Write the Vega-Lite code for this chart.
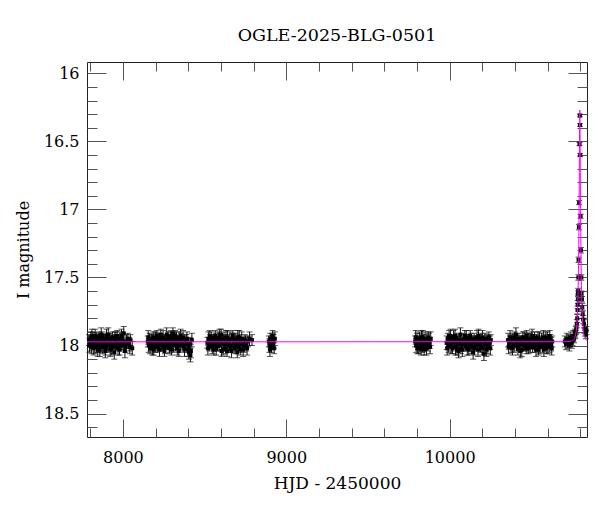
{
  "$schema": "https://vega.github.io/schema/vega-lite/v6.json",
  "width": 500,
  "height": 375,
  "autosize": "none",
  "padding": {"left": 87, "top": 62, "right": 13, "bottom": 75},
  "background": "white",
  "title": {
    "text": "OGLE-2025-BLG-0501",
    "font": "DejaVu Serif",
    "fontSize": 17.5,
    "fontWeight": "normal",
    "color": "#000",
    "anchor": "middle",
    "offset": 17
  },
  "datasets": {
    "obs": [
      {"hjd": 7792, "mag": 17.96, "err": 0.04}, {"hjd": 7798, "mag": 17.99, "err": 0.05}, {"hjd": 7803, "mag": 17.94, "err": 0.04},
      {"hjd": 7807, "mag": 18.01, "err": 0.05}, {"hjd": 7812, "mag": 17.97, "err": 0.04}, {"hjd": 7816, "mag": 17.95, "err": 0.05},
      {"hjd": 7821, "mag": 18.02, "err": 0.05}, {"hjd": 7826, "mag": 17.98, "err": 0.04}, {"hjd": 7830, "mag": 17.93, "err": 0.05},
      {"hjd": 7835, "mag": 17.97, "err": 0.04}, {"hjd": 7839, "mag": 18.00, "err": 0.05}, {"hjd": 7844, "mag": 17.96, "err": 0.04},
      {"hjd": 7849, "mag": 17.99, "err": 0.06}, {"hjd": 7853, "mag": 17.94, "err": 0.04}, {"hjd": 7858, "mag": 18.03, "err": 0.05},
      {"hjd": 7862, "mag": 17.97, "err": 0.04}, {"hjd": 7867, "mag": 17.92, "err": 0.05}, {"hjd": 7871, "mag": 17.98, "err": 0.04},
      {"hjd": 7876, "mag": 18.01, "err": 0.05}, {"hjd": 7880, "mag": 17.95, "err": 0.04}, {"hjd": 7885, "mag": 17.99, "err": 0.05},
      {"hjd": 7890, "mag": 17.96, "err": 0.04}, {"hjd": 7894, "mag": 18.02, "err": 0.05}, {"hjd": 7899, "mag": 17.93, "err": 0.05},
      {"hjd": 7903, "mag": 17.98, "err": 0.04}, {"hjd": 7908, "mag": 18.00, "err": 0.05}, {"hjd": 7912, "mag": 17.95, "err": 0.04},
      {"hjd": 7917, "mag": 17.97, "err": 0.06}, {"hjd": 7922, "mag": 18.03, "err": 0.05}, {"hjd": 7926, "mag": 17.96, "err": 0.04},
      {"hjd": 7931, "mag": 17.99, "err": 0.05}, {"hjd": 7936, "mag": 17.94, "err": 0.04}, {"hjd": 7940, "mag": 18.01, "err": 0.05},
      {"hjd": 7945, "mag": 17.97, "err": 0.04}, {"hjd": 7950, "mag": 17.95, "err": 0.05}, {"hjd": 7955, "mag": 18.00, "err": 0.04},
      {"hjd": 7960, "mag": 17.97, "err": 0.05}, {"hjd": 7965, "mag": 17.93, "err": 0.04}, {"hjd": 7970, "mag": 18.02, "err": 0.05},
      {"hjd": 7976, "mag": 17.98, "err": 0.04}, {"hjd": 7982, "mag": 17.95, "err": 0.05}, {"hjd": 7988, "mag": 18.00, "err": 0.04},
      {"hjd": 7994, "mag": 17.96, "err": 0.05}, {"hjd": 8000, "mag": 17.99, "err": 0.04}, {"hjd": 8005, "mag": 17.91, "err": 0.05},
      {"hjd": 8015, "mag": 18.01, "err": 0.04}, {"hjd": 8022, "mag": 17.97, "err": 0.05}, {"hjd": 8030, "mag": 17.95, "err": 0.04},
      {"hjd": 8038, "mag": 17.99, "err": 0.05}, {"hjd": 8046, "mag": 17.96, "err": 0.04}, {"hjd": 8057, "mag": 18.02, "err": 0.05},
      {"hjd": 7795, "mag": 18.00, "err": 0.05}, {"hjd": 7801, "mag": 17.97, "err": 0.04}, {"hjd": 7810, "mag": 17.93, "err": 0.05},
      {"hjd": 7819, "mag": 17.98, "err": 0.04}, {"hjd": 7828, "mag": 18.01, "err": 0.05}, {"hjd": 7837, "mag": 17.95, "err": 0.04},
      {"hjd": 7846, "mag": 18.03, "err": 0.05}, {"hjd": 7855, "mag": 17.96, "err": 0.04}, {"hjd": 7864, "mag": 18.00, "err": 0.05},
      {"hjd": 7873, "mag": 17.94, "err": 0.04}, {"hjd": 7882, "mag": 17.97, "err": 0.05}, {"hjd": 7892, "mag": 18.04, "err": 0.05},
      {"hjd": 7901, "mag": 17.96, "err": 0.04}, {"hjd": 7910, "mag": 17.92, "err": 0.05}, {"hjd": 7919, "mag": 17.99, "err": 0.04},
      {"hjd": 7929, "mag": 18.02, "err": 0.05}, {"hjd": 7938, "mag": 17.97, "err": 0.04}, {"hjd": 7947, "mag": 18.05, "err": 0.05},
      {"hjd": 7957, "mag": 17.94, "err": 0.04}, {"hjd": 7968, "mag": 17.98, "err": 0.05}, {"hjd": 7979, "mag": 18.03, "err": 0.04},
      {"hjd": 7991, "mag": 17.93, "err": 0.05}, {"hjd": 8003, "mag": 17.97, "err": 0.04}, {"hjd": 8012, "mag": 18.04, "err": 0.05},
      {"hjd": 8026, "mag": 17.98, "err": 0.04}, {"hjd": 8042, "mag": 18.01, "err": 0.05},

      {"hjd": 8152, "mag": 17.97, "err": 0.04}, {"hjd": 8158, "mag": 18.00, "err": 0.05}, {"hjd": 8163, "mag": 17.95, "err": 0.04},
      {"hjd": 8169, "mag": 17.99, "err": 0.05}, {"hjd": 8174, "mag": 17.96, "err": 0.04}, {"hjd": 8180, "mag": 18.02, "err": 0.05},
      {"hjd": 8185, "mag": 17.94, "err": 0.04}, {"hjd": 8191, "mag": 17.98, "err": 0.05}, {"hjd": 8196, "mag": 18.01, "err": 0.04},
      {"hjd": 8202, "mag": 17.96, "err": 0.05}, {"hjd": 8207, "mag": 17.93, "err": 0.04}, {"hjd": 8213, "mag": 17.99, "err": 0.05},
      {"hjd": 8218, "mag": 17.97, "err": 0.04}, {"hjd": 8224, "mag": 18.03, "err": 0.05}, {"hjd": 8229, "mag": 17.95, "err": 0.04},
      {"hjd": 8235, "mag": 17.98, "err": 0.05}, {"hjd": 8240, "mag": 18.00, "err": 0.04}, {"hjd": 8246, "mag": 17.94, "err": 0.05},
      {"hjd": 8251, "mag": 17.97, "err": 0.04}, {"hjd": 8257, "mag": 18.01, "err": 0.05}, {"hjd": 8262, "mag": 17.96, "err": 0.04},
      {"hjd": 8268, "mag": 17.92, "err": 0.05}, {"hjd": 8273, "mag": 17.99, "err": 0.04}, {"hjd": 8279, "mag": 17.97, "err": 0.05},
      {"hjd": 8284, "mag": 18.02, "err": 0.04}, {"hjd": 8290, "mag": 17.95, "err": 0.05}, {"hjd": 8295, "mag": 17.93, "err": 0.04},
      {"hjd": 8300, "mag": 17.98, "err": 0.05}, {"hjd": 8306, "mag": 17.91, "err": 0.04}, {"hjd": 8311, "mag": 18.00, "err": 0.05},
      {"hjd": 8317, "mag": 17.96, "err": 0.04}, {"hjd": 8322, "mag": 17.99, "err": 0.05}, {"hjd": 8328, "mag": 17.94, "err": 0.04},
      {"hjd": 8333, "mag": 18.02, "err": 0.05}, {"hjd": 8339, "mag": 17.97, "err": 0.04}, {"hjd": 8344, "mag": 17.95, "err": 0.05},
      {"hjd": 8350, "mag": 18.00, "err": 0.04}, {"hjd": 8356, "mag": 17.96, "err": 0.05}, {"hjd": 8362, "mag": 17.98, "err": 0.04},
      {"hjd": 8368, "mag": 17.94, "err": 0.05}, {"hjd": 8374, "mag": 18.01, "err": 0.04}, {"hjd": 8380, "mag": 17.97, "err": 0.05},
      {"hjd": 8386, "mag": 17.99, "err": 0.04}, {"hjd": 8392, "mag": 17.95, "err": 0.05}, {"hjd": 8398, "mag": 18.03, "err": 0.05},
      {"hjd": 8404, "mag": 18.05, "err": 0.05}, {"hjd": 8410, "mag": 17.98, "err": 0.04}, {"hjd": 8416, "mag": 18.04, "err": 0.05},
      {"hjd": 8422, "mag": 17.96, "err": 0.05},
      {"hjd": 8155, "mag": 17.94, "err": 0.05}, {"hjd": 8166, "mag": 18.02, "err": 0.04}, {"hjd": 8177, "mag": 17.97, "err": 0.05},
      {"hjd": 8188, "mag": 18.03, "err": 0.04}, {"hjd": 8199, "mag": 17.95, "err": 0.05}, {"hjd": 8210, "mag": 18.01, "err": 0.04},
      {"hjd": 8221, "mag": 17.96, "err": 0.05}, {"hjd": 8232, "mag": 17.92, "err": 0.04}, {"hjd": 8243, "mag": 17.99, "err": 0.05},
      {"hjd": 8254, "mag": 18.04, "err": 0.04}, {"hjd": 8265, "mag": 17.97, "err": 0.05}, {"hjd": 8276, "mag": 17.94, "err": 0.04},
      {"hjd": 8287, "mag": 18.00, "err": 0.05}, {"hjd": 8298, "mag": 18.03, "err": 0.04}, {"hjd": 8309, "mag": 17.96, "err": 0.05},
      {"hjd": 8320, "mag": 17.93, "err": 0.04}, {"hjd": 8331, "mag": 17.98, "err": 0.05}, {"hjd": 8342, "mag": 18.04, "err": 0.04},
      {"hjd": 8353, "mag": 17.93, "err": 0.05}, {"hjd": 8365, "mag": 17.99, "err": 0.04}, {"hjd": 8377, "mag": 18.03, "err": 0.05},
      {"hjd": 8389, "mag": 17.96, "err": 0.04}, {"hjd": 8401, "mag": 18.00, "err": 0.05}, {"hjd": 8413, "mag": 18.07, "err": 0.05},

      {"hjd": 8517, "mag": 17.98, "err": 0.04}, {"hjd": 8523, "mag": 17.95, "err": 0.05}, {"hjd": 8529, "mag": 18.00, "err": 0.04},
      {"hjd": 8535, "mag": 17.97, "err": 0.05}, {"hjd": 8541, "mag": 17.94, "err": 0.04}, {"hjd": 8547, "mag": 18.01, "err": 0.05},
      {"hjd": 8553, "mag": 17.96, "err": 0.04}, {"hjd": 8559, "mag": 17.99, "err": 0.05}, {"hjd": 8565, "mag": 17.93, "err": 0.04},
      {"hjd": 8571, "mag": 18.02, "err": 0.05}, {"hjd": 8577, "mag": 17.97, "err": 0.04}, {"hjd": 8583, "mag": 17.95, "err": 0.05},
      {"hjd": 8589, "mag": 18.00, "err": 0.04}, {"hjd": 8595, "mag": 17.96, "err": 0.05}, {"hjd": 8601, "mag": 17.92, "err": 0.04},
      {"hjd": 8607, "mag": 17.98, "err": 0.05}, {"hjd": 8613, "mag": 18.03, "err": 0.04}, {"hjd": 8619, "mag": 17.95, "err": 0.05},
      {"hjd": 8625, "mag": 17.99, "err": 0.04}, {"hjd": 8631, "mag": 17.94, "err": 0.05}, {"hjd": 8637, "mag": 18.04, "err": 0.04},
      {"hjd": 8643, "mag": 17.97, "err": 0.05}, {"hjd": 8649, "mag": 17.99, "err": 0.04}, {"hjd": 8655, "mag": 17.95, "err": 0.05},
      {"hjd": 8661, "mag": 18.01, "err": 0.04}, {"hjd": 8667, "mag": 17.96, "err": 0.05}, {"hjd": 8673, "mag": 17.93, "err": 0.04},
      {"hjd": 8679, "mag": 17.98, "err": 0.05}, {"hjd": 8685, "mag": 18.02, "err": 0.04}, {"hjd": 8691, "mag": 17.96, "err": 0.05},
      {"hjd": 8697, "mag": 17.99, "err": 0.04}, {"hjd": 8703, "mag": 17.94, "err": 0.05}, {"hjd": 8709, "mag": 18.01, "err": 0.04},
      {"hjd": 8715, "mag": 17.97, "err": 0.05}, {"hjd": 8721, "mag": 18.03, "err": 0.04}, {"hjd": 8727, "mag": 17.95, "err": 0.05},
      {"hjd": 8733, "mag": 17.98, "err": 0.04}, {"hjd": 8740, "mag": 18.00, "err": 0.05}, {"hjd": 8747, "mag": 17.96, "err": 0.04},
      {"hjd": 8755, "mag": 17.99, "err": 0.05}, {"hjd": 8765, "mag": 17.97, "err": 0.04}, {"hjd": 8775, "mag": 17.95, "err": 0.05},
      {"hjd": 8790, "mag": 17.96, "err": 0.04},
      {"hjd": 8520, "mag": 18.02, "err": 0.05}, {"hjd": 8532, "mag": 17.93, "err": 0.04}, {"hjd": 8544, "mag": 17.98, "err": 0.05},
      {"hjd": 8556, "mag": 18.03, "err": 0.04}, {"hjd": 8568, "mag": 17.96, "err": 0.05}, {"hjd": 8580, "mag": 18.00, "err": 0.04},
      {"hjd": 8592, "mag": 17.93, "err": 0.05}, {"hjd": 8604, "mag": 18.04, "err": 0.04}, {"hjd": 8616, "mag": 17.97, "err": 0.05},
      {"hjd": 8628, "mag": 18.02, "err": 0.04}, {"hjd": 8640, "mag": 17.94, "err": 0.05}, {"hjd": 8652, "mag": 18.00, "err": 0.04},
      {"hjd": 8664, "mag": 18.04, "err": 0.05}, {"hjd": 8676, "mag": 17.95, "err": 0.04}, {"hjd": 8688, "mag": 17.99, "err": 0.05},
      {"hjd": 8700, "mag": 18.05, "err": 0.04}, {"hjd": 8712, "mag": 17.94, "err": 0.05}, {"hjd": 8724, "mag": 17.99, "err": 0.04},
      {"hjd": 8736, "mag": 18.03, "err": 0.05}, {"hjd": 8750, "mag": 17.97, "err": 0.04}, {"hjd": 8760, "mag": 18.02, "err": 0.05},

      {"hjd": 8893, "mag": 17.97, "err": 0.04}, {"hjd": 8897, "mag": 18.00, "err": 0.05}, {"hjd": 8902, "mag": 17.95, "err": 0.04},
      {"hjd": 8906, "mag": 17.98, "err": 0.05}, {"hjd": 8910, "mag": 18.01, "err": 0.04}, {"hjd": 8914, "mag": 17.96, "err": 0.05},
      {"hjd": 8918, "mag": 17.99, "err": 0.04}, {"hjd": 8922, "mag": 17.97, "err": 0.05}, {"hjd": 8926, "mag": 18.02, "err": 0.04},
      {"hjd": 8930, "mag": 17.95, "err": 0.05}, {"hjd": 8900, "mag": 18.03, "err": 0.05}, {"hjd": 8916, "mag": 17.93, "err": 0.04},

      {"hjd": 9789, "mag": 17.97, "err": 0.04}, {"hjd": 9795, "mag": 18.00, "err": 0.05}, {"hjd": 9800, "mag": 17.95, "err": 0.04},
      {"hjd": 9806, "mag": 17.98, "err": 0.05}, {"hjd": 9811, "mag": 18.02, "err": 0.04}, {"hjd": 9817, "mag": 17.96, "err": 0.05},
      {"hjd": 9822, "mag": 17.99, "err": 0.04}, {"hjd": 9828, "mag": 17.94, "err": 0.05}, {"hjd": 9833, "mag": 18.01, "err": 0.04},
      {"hjd": 9839, "mag": 17.97, "err": 0.05}, {"hjd": 9844, "mag": 18.03, "err": 0.04}, {"hjd": 9850, "mag": 17.95, "err": 0.05},
      {"hjd": 9855, "mag": 17.99, "err": 0.04}, {"hjd": 9861, "mag": 17.97, "err": 0.05}, {"hjd": 9866, "mag": 18.00, "err": 0.04},
      {"hjd": 9872, "mag": 17.96, "err": 0.05}, {"hjd": 9878, "mag": 17.98, "err": 0.04}, {"hjd": 9884, "mag": 17.95, "err": 0.05},
      {"hjd": 9792, "mag": 17.94, "err": 0.05}, {"hjd": 9803, "mag": 18.02, "err": 0.04}, {"hjd": 9814, "mag": 17.95, "err": 0.05},
      {"hjd": 9825, "mag": 18.03, "err": 0.04}, {"hjd": 9836, "mag": 17.94, "err": 0.05}, {"hjd": 9847, "mag": 17.99, "err": 0.04},
      {"hjd": 9858, "mag": 18.02, "err": 0.05}, {"hjd": 9869, "mag": 17.94, "err": 0.04}, {"hjd": 9880, "mag": 18.01, "err": 0.05},

      {"hjd": 9982, "mag": 17.98, "err": 0.05}, {"hjd": 9988, "mag": 17.95, "err": 0.04}, {"hjd": 9994, "mag": 18.00, "err": 0.05},
      {"hjd": 10000, "mag": 17.96, "err": 0.04}, {"hjd": 10006, "mag": 17.93, "err": 0.05}, {"hjd": 10012, "mag": 17.99, "err": 0.05},
      {"hjd": 10018, "mag": 18.02, "err": 0.04}, {"hjd": 10024, "mag": 17.94, "err": 0.05}, {"hjd": 10030, "mag": 17.97, "err": 0.04},
      {"hjd": 10036, "mag": 18.01, "err": 0.06}, {"hjd": 10042, "mag": 17.95, "err": 0.04}, {"hjd": 10048, "mag": 17.98, "err": 0.05},
      {"hjd": 10054, "mag": 18.04, "err": 0.05}, {"hjd": 10060, "mag": 17.96, "err": 0.04}, {"hjd": 10066, "mag": 17.92, "err": 0.05},
      {"hjd": 10072, "mag": 17.99, "err": 0.04}, {"hjd": 10078, "mag": 18.03, "err": 0.05}, {"hjd": 10084, "mag": 17.95, "err": 0.04},
      {"hjd": 10090, "mag": 17.97, "err": 0.05}, {"hjd": 10096, "mag": 18.00, "err": 0.04}, {"hjd": 10102, "mag": 17.94, "err": 0.05},
      {"hjd": 10108, "mag": 18.02, "err": 0.05}, {"hjd": 10114, "mag": 17.96, "err": 0.04}, {"hjd": 10120, "mag": 17.99, "err": 0.05},
      {"hjd": 10126, "mag": 17.93, "err": 0.04}, {"hjd": 10132, "mag": 18.01, "err": 0.05}, {"hjd": 10138, "mag": 17.97, "err": 0.04},
      {"hjd": 10144, "mag": 18.05, "err": 0.05}, {"hjd": 10150, "mag": 17.95, "err": 0.04}, {"hjd": 10156, "mag": 17.98, "err": 0.05},
      {"hjd": 10162, "mag": 18.00, "err": 0.04}, {"hjd": 10168, "mag": 17.94, "err": 0.05}, {"hjd": 10174, "mag": 18.03, "err": 0.05},
      {"hjd": 10180, "mag": 17.96, "err": 0.04}, {"hjd": 10186, "mag": 17.99, "err": 0.05}, {"hjd": 10192, "mag": 17.95, "err": 0.04},
      {"hjd": 10198, "mag": 18.02, "err": 0.05}, {"hjd": 10204, "mag": 17.97, "err": 0.04}, {"hjd": 10210, "mag": 18.06, "err": 0.05},
      {"hjd": 10216, "mag": 17.95, "err": 0.04}, {"hjd": 10222, "mag": 17.99, "err": 0.05}, {"hjd": 10228, "mag": 17.96, "err": 0.04},
      {"hjd": 10234, "mag": 18.01, "err": 0.05}, {"hjd": 10240, "mag": 17.94, "err": 0.04}, {"hjd": 10246, "mag": 17.98, "err": 0.05},
      {"hjd": 10252, "mag": 17.96, "err": 0.04},
      {"hjd": 9985, "mag": 18.02, "err": 0.05}, {"hjd": 9997, "mag": 17.93, "err": 0.04}, {"hjd": 10009, "mag": 18.01, "err": 0.05},
      {"hjd": 10021, "mag": 17.97, "err": 0.04}, {"hjd": 10033, "mag": 17.93, "err": 0.05}, {"hjd": 10045, "mag": 18.03, "err": 0.04},
      {"hjd": 10057, "mag": 17.98, "err": 0.05}, {"hjd": 10069, "mag": 18.02, "err": 0.04}, {"hjd": 10081, "mag": 17.99, "err": 0.05},
      {"hjd": 10093, "mag": 17.93, "err": 0.04}, {"hjd": 10105, "mag": 17.97, "err": 0.05}, {"hjd": 10117, "mag": 18.03, "err": 0.04},
      {"hjd": 10129, "mag": 17.96, "err": 0.05}, {"hjd": 10141, "mag": 17.99, "err": 0.04}, {"hjd": 10153, "mag": 18.02, "err": 0.05},
      {"hjd": 10165, "mag": 17.97, "err": 0.04}, {"hjd": 10177, "mag": 17.93, "err": 0.05}, {"hjd": 10189, "mag": 18.01, "err": 0.04},
      {"hjd": 10201, "mag": 17.94, "err": 0.05}, {"hjd": 10213, "mag": 17.99, "err": 0.04}, {"hjd": 10225, "mag": 18.03, "err": 0.05},
      {"hjd": 10237, "mag": 17.97, "err": 0.04}, {"hjd": 10249, "mag": 18.02, "err": 0.05},

      {"hjd": 10358, "mag": 17.96, "err": 0.05}, {"hjd": 10364, "mag": 17.99, "err": 0.04}, {"hjd": 10370, "mag": 17.94, "err": 0.05},
      {"hjd": 10376, "mag": 18.01, "err": 0.04}, {"hjd": 10382, "mag": 17.97, "err": 0.05}, {"hjd": 10388, "mag": 17.95, "err": 0.04},
      {"hjd": 10394, "mag": 18.00, "err": 0.05}, {"hjd": 10400, "mag": 17.96, "err": 0.04}, {"hjd": 10406, "mag": 17.92, "err": 0.05},
      {"hjd": 10412, "mag": 17.98, "err": 0.04}, {"hjd": 10418, "mag": 18.02, "err": 0.05}, {"hjd": 10424, "mag": 17.95, "err": 0.04},
      {"hjd": 10430, "mag": 17.99, "err": 0.05}, {"hjd": 10436, "mag": 17.97, "err": 0.04}, {"hjd": 10442, "mag": 18.03, "err": 0.05},
      {"hjd": 10448, "mag": 17.94, "err": 0.04}, {"hjd": 10454, "mag": 17.98, "err": 0.05}, {"hjd": 10460, "mag": 18.00, "err": 0.04},
      {"hjd": 10466, "mag": 17.96, "err": 0.05}, {"hjd": 10472, "mag": 17.93, "err": 0.04}, {"hjd": 10478, "mag": 17.99, "err": 0.05},
      {"hjd": 10484, "mag": 18.02, "err": 0.04}, {"hjd": 10490, "mag": 17.96, "err": 0.05}, {"hjd": 10496, "mag": 17.98, "err": 0.04},
      {"hjd": 10502, "mag": 17.95, "err": 0.05}, {"hjd": 10508, "mag": 18.01, "err": 0.04}, {"hjd": 10514, "mag": 17.97, "err": 0.05},
      {"hjd": 10520, "mag": 17.94, "err": 0.04}, {"hjd": 10526, "mag": 18.00, "err": 0.05}, {"hjd": 10532, "mag": 17.96, "err": 0.04},
      {"hjd": 10538, "mag": 17.99, "err": 0.05}, {"hjd": 10544, "mag": 18.03, "err": 0.04}, {"hjd": 10550, "mag": 17.95, "err": 0.05},
      {"hjd": 10556, "mag": 17.98, "err": 0.04}, {"hjd": 10562, "mag": 17.96, "err": 0.05}, {"hjd": 10568, "mag": 18.01, "err": 0.04},
      {"hjd": 10574, "mag": 17.94, "err": 0.05}, {"hjd": 10580, "mag": 17.99, "err": 0.04}, {"hjd": 10586, "mag": 17.97, "err": 0.05},
      {"hjd": 10592, "mag": 18.02, "err": 0.04}, {"hjd": 10598, "mag": 17.95, "err": 0.05}, {"hjd": 10604, "mag": 17.98, "err": 0.04},
      {"hjd": 10610, "mag": 18.00, "err": 0.05}, {"hjd": 10616, "mag": 17.96, "err": 0.04}, {"hjd": 10622, "mag": 17.99, "err": 0.05},
      {"hjd": 10628, "mag": 17.97, "err": 0.04},
      {"hjd": 10361, "mag": 18.01, "err": 0.05}, {"hjd": 10373, "mag": 17.97, "err": 0.04}, {"hjd": 10385, "mag": 18.02, "err": 0.05},
      {"hjd": 10397, "mag": 17.94, "err": 0.04}, {"hjd": 10409, "mag": 17.99, "err": 0.05}, {"hjd": 10421, "mag": 17.97, "err": 0.04},
      {"hjd": 10433, "mag": 18.04, "err": 0.05}, {"hjd": 10445, "mag": 17.99, "err": 0.04}, {"hjd": 10457, "mag": 17.95, "err": 0.05},
      {"hjd": 10469, "mag": 18.02, "err": 0.04}, {"hjd": 10481, "mag": 17.96, "err": 0.05}, {"hjd": 10493, "mag": 18.01, "err": 0.04},
      {"hjd": 10505, "mag": 17.93, "err": 0.05}, {"hjd": 10517, "mag": 17.99, "err": 0.04}, {"hjd": 10529, "mag": 18.03, "err": 0.05},
      {"hjd": 10541, "mag": 17.94, "err": 0.04}, {"hjd": 10553, "mag": 18.01, "err": 0.05}, {"hjd": 10565, "mag": 17.97, "err": 0.04},
      {"hjd": 10577, "mag": 18.03, "err": 0.05}, {"hjd": 10589, "mag": 17.94, "err": 0.04}, {"hjd": 10601, "mag": 18.01, "err": 0.05},
      {"hjd": 10613, "mag": 17.93, "err": 0.04}, {"hjd": 10625, "mag": 18.02, "err": 0.05},

      {"hjd": 10705, "mag": 17.97, "err": 0.04}, {"hjd": 10712, "mag": 17.99, "err": 0.04}, {"hjd": 10718, "mag": 17.95, "err": 0.04},
      {"hjd": 10722, "mag": 17.98, "err": 0.04}, {"hjd": 10728, "mag": 17.96, "err": 0.04}, {"hjd": 10733, "mag": 18.00, "err": 0.04},
      {"hjd": 10738, "mag": 17.97, "err": 0.04}, {"hjd": 10742, "mag": 17.94, "err": 0.04}, {"hjd": 10748, "mag": 17.98, "err": 0.04},
      {"hjd": 10752, "mag": 17.96, "err": 0.04}, {"hjd": 10757, "mag": 17.93, "err": 0.04}, {"hjd": 10762, "mag": 17.95, "err": 0.03},
      {"hjd": 10766, "mag": 17.91, "err": 0.03}, {"hjd": 10770, "mag": 17.92, "err": 0.03}, {"hjd": 10773, "mag": 17.89, "err": 0.03},
      {"hjd": 10776, "mag": 17.88, "err": 0.03}, {"hjd": 10779, "mag": 17.84, "err": 0.03}, {"hjd": 10781, "mag": 17.80, "err": 0.03},
      {"hjd": 10783, "mag": 17.74, "err": 0.03}, {"hjd": 10784, "mag": 17.70, "err": 0.03}, {"hjd": 10785, "mag": 17.66, "err": 0.03},
      {"hjd": 10786, "mag": 17.62, "err": 0.02}, {"hjd": 10787, "mag": 17.60, "err": 0.02}, {"hjd": 10788, "mag": 17.50, "err": 0.02},
      {"hjd": 10789.4, "mag": 17.37, "err": 0.02}, {"hjd": 10791.5, "mag": 17.13, "err": 0.02}, {"hjd": 10792.8, "mag": 16.95, "err": 0.015},
      {"hjd": 10795, "mag": 16.52, "err": 0.012}, {"hjd": 10797.5, "mag": 16.31, "err": 0.01}, {"hjd": 10798.2, "mag": 16.38, "err": 0.01},
      {"hjd": 10799.4, "mag": 16.60, "err": 0.012}, {"hjd": 10801.9, "mag": 17.05, "err": 0.015}, {"hjd": 10804, "mag": 17.30, "err": 0.02},
      {"hjd": 10806.2, "mag": 17.50, "err": 0.02}, {"hjd": 10808, "mag": 17.62, "err": 0.02}, {"hjd": 10810, "mag": 17.66, "err": 0.02},
      {"hjd": 10812, "mag": 17.72, "err": 0.03}, {"hjd": 10815, "mag": 17.77, "err": 0.03}, {"hjd": 10818, "mag": 17.81, "err": 0.03},
      {"hjd": 10822, "mag": 17.84, "err": 0.03}, {"hjd": 10826, "mag": 17.88, "err": 0.03}, {"hjd": 10830, "mag": 17.90, "err": 0.03},
      {"hjd": 10834, "mag": 17.92, "err": 0.03}, {"hjd": 10838, "mag": 17.89, "err": 0.03}
    ],
    "model": [
      {"hjd": 7780, "mag": 17.973}, {"hjd": 10700, "mag": 17.972}, {"hjd": 10737, "mag": 17.969},
      {"hjd": 10753, "mag": 17.964}, {"hjd": 10765, "mag": 17.947}, {"hjd": 10772, "mag": 17.917},
      {"hjd": 10777, "mag": 17.871}, {"hjd": 10781, "mag": 17.80}, {"hjd": 10784, "mag": 17.708},
      {"hjd": 10787, "mag": 17.56}, {"hjd": 10789, "mag": 17.41}, {"hjd": 10791, "mag": 17.20},
      {"hjd": 10792, "mag": 17.07}, {"hjd": 10793, "mag": 16.91}, {"hjd": 10794, "mag": 16.73},
      {"hjd": 10795, "mag": 16.53}, {"hjd": 10796, "mag": 16.36}, {"hjd": 10797, "mag": 16.27},
      {"hjd": 10798, "mag": 16.36}, {"hjd": 10799, "mag": 16.53}, {"hjd": 10800, "mag": 16.73},
      {"hjd": 10801, "mag": 16.91}, {"hjd": 10802, "mag": 17.07}, {"hjd": 10803, "mag": 17.20},
      {"hjd": 10805, "mag": 17.41}, {"hjd": 10807, "mag": 17.56}, {"hjd": 10810, "mag": 17.708},
      {"hjd": 10813, "mag": 17.80}, {"hjd": 10817, "mag": 17.871}, {"hjd": 10822, "mag": 17.917},
      {"hjd": 10829, "mag": 17.947}, {"hjd": 10841, "mag": 17.964}
    ]
  },
  "layer": [
    {
      "data": {"name": "obs"},
      "mark": {"type": "errorbar", "ticks": {"size": 6}, "color": "#111", "thickness": 1},
      "encoding": {
        "x": {"field": "hjd", "type": "quantitative", "scale": {"domain": [7780, 10841], "nice": false, "zero": false}, "axis": null},
        "y": {"field": "mag", "type": "quantitative", "scale": {"domain": [15.917, 18.672], "reverse": true, "nice": false, "zero": false}, "axis": null},
        "yError": {"field": "err"}
      }
    },
    {
      "data": {"name": "obs"},
      "mark": {"type": "point", "shape": "square", "filled": true, "size": 16, "color": "#000", "opacity": 1},
      "encoding": {
        "x": {"field": "hjd", "type": "quantitative", "scale": {"domain": [7780, 10841], "nice": false, "zero": false}, "axis": null},
        "y": {"field": "mag", "type": "quantitative", "scale": {"domain": [15.917, 18.672], "reverse": true, "nice": false, "zero": false}, "axis": null}
      }
    },
    {
      "data": {"name": "model"},
      "mark": {"type": "line", "color": "#ff00ff", "strokeWidth": 1, "interpolate": "monotone"},
      "encoding": {
        "x": {"field": "hjd", "type": "quantitative", "scale": {"domain": [7780, 10841], "nice": false, "zero": false},
              "axis": {"orient": "bottom", "values": [8000, 9000, 10000], "format": "d", "ticks": false, "labelPadding": 12, "title": "HJD - 2450000", "titlePadding": 10, "titleFontSize": 17}},
        "y": {"field": "mag", "type": "quantitative", "scale": {"domain": [15.917, 18.672], "reverse": true, "nice": false, "zero": false},
              "axis": {"orient": "left", "values": [16, 16.5, 17, 17.5, 18, 18.5], "format": "~g", "ticks": false, "labelPadding": 8, "title": "I magnitude", "titlePadding": 12}}
      }
    },
    {
      "data": {"name": "model"},
      "mark": {"type": "line", "strokeOpacity": 0},
      "encoding": {
        "x": {"field": "hjd", "type": "quantitative", "scale": {"domain": [7780, 10841], "nice": false, "zero": false},
              "axis": {"orient": "bottom", "values": [8000, 9000, 10000], "labels": false, "title": null, "tickSize": -18}},
        "y": {"field": "mag", "type": "quantitative", "scale": {"domain": [15.917, 18.672], "reverse": true, "nice": false, "zero": false},
              "axis": {"orient": "left", "values": [16, 16.5, 17, 17.5, 18, 18.5], "labels": false, "title": null, "tickSize": -19}}
      }
    },
    {
      "data": {"name": "model"},
      "mark": {"type": "line", "strokeOpacity": 0},
      "encoding": {
        "x": {"field": "hjd", "type": "quantitative", "scale": {"domain": [7780, 10841], "nice": false, "zero": false},
              "axis": {"orient": "bottom", "values": [7800, 8200, 8400, 8600, 8800, 9200, 9400, 9600, 9800, 10200, 10400, 10600, 10800], "labels": false, "title": null, "tickSize": -9}},
        "y": {"field": "mag", "type": "quantitative", "scale": {"domain": [15.917, 18.672], "reverse": true, "nice": false, "zero": false},
              "axis": {"orient": "left", "values": [16.1, 16.2, 16.3, 16.4, 16.6, 16.7, 16.8, 16.9, 17.1, 17.2, 17.3, 17.4, 17.6, 17.7, 17.8, 17.9, 18.1, 18.2, 18.3, 18.4, 18.6], "labels": false, "title": null, "tickSize": -10}}
      }
    },
    {
      "data": {"name": "model"},
      "mark": {"type": "line", "strokeOpacity": 0},
      "encoding": {
        "x": {"field": "hjd", "type": "quantitative", "scale": {"domain": [7780, 10841], "nice": false, "zero": false},
              "axis": {"orient": "top", "values": [8000, 9000, 10000], "labels": false, "title": null, "tickSize": -18}},
        "y": {"field": "mag", "type": "quantitative", "scale": {"domain": [15.917, 18.672], "reverse": true, "nice": false, "zero": false},
              "axis": {"orient": "right", "values": [16, 16.5, 17, 17.5, 18, 18.5], "labels": false, "title": null, "tickSize": -19}}
      }
    },
    {
      "data": {"name": "model"},
      "mark": {"type": "line", "strokeOpacity": 0},
      "encoding": {
        "x": {"field": "hjd", "type": "quantitative", "scale": {"domain": [7780, 10841], "nice": false, "zero": false},
              "axis": {"orient": "top", "values": [7800, 8200, 8400, 8600, 8800, 9200, 9400, 9600, 9800, 10200, 10400, 10600, 10800], "labels": false, "title": null, "tickSize": -9}},
        "y": {"field": "mag", "type": "quantitative", "scale": {"domain": [15.917, 18.672], "reverse": true, "nice": false, "zero": false},
              "axis": {"orient": "right", "values": [16.1, 16.2, 16.3, 16.4, 16.6, 16.7, 16.8, 16.9, 17.1, 17.2, 17.3, 17.4, 17.6, 17.7, 17.8, 17.9, 18.1, 18.2, 18.3, 18.4, 18.6], "labels": false, "title": null, "tickSize": -10}}
      }
    }
  ],
  "resolve": {"axis": {"x": "independent", "y": "independent"}},
  "config": {
    "view": {"stroke": "#222", "strokeWidth": 1},
    "axis": {
      "domain": false,
      "grid": false,
      "tickColor": "#555",
      "tickWidth": 1,
      "labelFont": "DejaVu Serif",
      "labelFontSize": 16,
      "labelColor": "#000",
      "labelFlush": false,
      "titleFont": "DejaVu Serif",
      "titleFontSize": 16,
      "titleFontWeight": "normal",
      "titleColor": "#000"
    }
  }
}
